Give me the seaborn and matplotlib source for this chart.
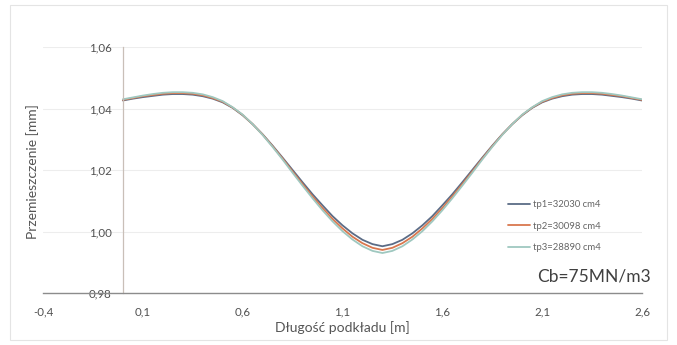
import numpy as np
import pandas as pd
import matplotlib
matplotlib.use("Agg")
import matplotlib.pyplot as plt
import seaborn as sns
from matplotlib.patches import Rectangle

# ---- data ----
x_m = [0.00, 0.05, 0.10, 0.15, 0.20, 0.25, 0.30, 0.35, 0.40, 0.45, 0.50, 0.55,
       0.60, 0.65, 0.70, 0.75, 0.80, 0.85, 0.90, 0.95, 1.00, 1.05, 1.10, 1.15,
       1.20, 1.25, 1.30, 1.35, 1.40, 1.45, 1.50, 1.55, 1.60, 1.65, 1.70, 1.75,
       1.80, 1.85, 1.90, 1.95, 2.00, 2.05, 2.10, 2.15, 2.20, 2.25, 2.30, 2.35,
       2.40, 2.45, 2.50, 2.55, 2.60]
tp1 = [1.0426, 1.0432, 1.0437, 1.0441, 1.0445, 1.0447, 1.0447, 1.0445, 1.0440,
       1.0432, 1.0420, 1.0402, 1.0378, 1.0349, 1.0316, 1.0279, 1.0240, 1.0200,
       1.0160, 1.0121, 1.0085, 1.0050, 1.0020, 0.9994, 0.9973, 0.9959, 0.9952,
       0.9959, 0.9973, 0.9994, 1.0020, 1.0050, 1.0085, 1.0121, 1.0160, 1.0200,
       1.0240, 1.0279, 1.0316, 1.0349, 1.0378, 1.0402, 1.0420, 1.0432, 1.0440,
       1.0445, 1.0447, 1.0447, 1.0445, 1.0441, 1.0437, 1.0432, 1.0426]
tp2 = [1.0428, 1.0434, 1.0440, 1.0444, 1.0448, 1.0450, 1.0450, 1.0448, 1.0443,
       1.0434, 1.0422, 1.0403, 1.0379, 1.0349, 1.0315, 1.0277, 1.0237, 1.0195,
       1.0154, 1.0114, 1.0076, 1.0041, 1.0010, 0.9983, 0.9962, 0.9947, 0.9940,
       0.9947, 0.9962, 0.9983, 1.0010, 1.0041, 1.0076, 1.0114, 1.0154, 1.0195,
       1.0237, 1.0277, 1.0315, 1.0349, 1.0379, 1.0403, 1.0422, 1.0434, 1.0443,
       1.0448, 1.0450, 1.0450, 1.0448, 1.0444, 1.0440, 1.0434, 1.0428]
tp3 = [1.0430, 1.0436, 1.0442, 1.0447, 1.0451, 1.0453, 1.0453, 1.0451, 1.0446,
       1.0437, 1.0424, 1.0404, 1.0380, 1.0349, 1.0314, 1.0275, 1.0234, 1.0191,
       1.0149, 1.0108, 1.0069, 1.0033, 1.0001, 0.9974, 0.9952, 0.9937, 0.9930,
       0.9937, 0.9952, 0.9974, 1.0001, 1.0033, 1.0069, 1.0108, 1.0149, 1.0191,
       1.0234, 1.0275, 1.0314, 1.0349, 1.0380, 1.0404, 1.0424, 1.0437, 1.0446,
       1.0451, 1.0453, 1.0453, 1.0451, 1.0447, 1.0442, 1.0436, 1.0430]
series_names = ["tp1=32030 cm4", "tp2=30098 cm4", "tp3=28890 cm4"]
x_ticks = [-0.4, 0.1, 0.6, 1.1, 1.6, 2.1, 2.6]
x_tick_labels = ["-0,4", "0,1", "0,6", "1,1", "1,6", "2,1", "2,6"]
y_ticks = [0.98, 1.00, 1.02, 1.04, 1.06]
y_tick_labels = ["0,98", "1,00", "1,02", "1,04", "1,06"]
x_title = "Długość podkładu [m]"
y_title = "Przemieszczenie [mm]"
annotation = "Cb=75MN/m3"

df = pd.concat([
    pd.DataFrame({"x": x_m, "y": vals, "series": name})
    for name, vals in zip(series_names, [tp1, tp2, tp3])
], ignore_index=True)

sns.set_theme(style="white")
plt.rcParams["font.family"] = ["Lato", "DejaVu Sans"]

W, H = 677, 345
fig = plt.figure(figsize=(W / 100, H / 100), dpi=100)
fig.patch.set_facecolor("white")

# outer chart frame
fig.patches.append(Rectangle((10 / W, 5 / H), 657 / W, 335 / H,
                             transform=fig.transFigure, fill=False,
                             edgecolor="#e4e4e4", linewidth=0.8))

ax_l, ax_r, ax_t, ax_b = 43, 642, 47, 293
ax = fig.add_axes([ax_l / W, 1 - ax_b / H, (ax_r - ax_l) / W, (ax_b - ax_t) / H])

palette = {series_names[0]: "#5b6c86", series_names[1]: "#d9774e",
           series_names[2]: "#9fc8c0"}
sns.lineplot(data=df, x="x", y="y", hue="series", palette=palette,
             linewidth=1.3, ax=ax, legend=True)

ax.set_xlim(-0.4, 2.6)
ax.set_ylim(0.98, 1.06)
ax.set_xticks(x_ticks)
ax.set_xticklabels(x_tick_labels)
ax.set_yticks(y_ticks)
ax.set_yticklabels(y_tick_labels)

ax.grid(axis="y", color="#ededed", linewidth=0.8)
ax.grid(axis="x", visible=False)
ax.set_axisbelow(True)

for s in ["top", "right"]:
    ax.spines[s].set_visible(False)
ax.spines["left"].set_position(("data", 0))
ax.spines["left"].set_color("#c9bfb8")
ax.spines["left"].set_linewidth(0.9)
ax.spines["bottom"].set_color("#8c8c8c")
ax.spines["bottom"].set_linewidth(1.0)

ax.tick_params(axis="both", length=0, labelsize=8.3, colors="#505050")
ax.tick_params(axis="x", pad=10)
ax.tick_params(axis="y", pad=8)

ax.set_xlabel(x_title, fontsize=10, color="#555555", labelpad=2)
ax.set_ylabel("")
fig.text(33 / W, 1 - 172 / H, y_title, rotation=90, fontsize=10,
         color="#555555", ha="center", va="center")

leg = ax.legend(loc="upper left", bbox_to_anchor=((508 - ax_l) / (ax_r - ax_l),
                (ax_b - 200) / (ax_b - ax_t)),
                frameon=False, fontsize=6.8, handlelength=2.3,
                handletextpad=0.3, labelspacing=1.35, borderaxespad=0,
                borderpad=0)
for t in leg.get_texts():
    t.set_color("#666666")

ax.text((537 - ax_l) / (ax_r - ax_l), (ax_b - 276) / (ax_b - ax_t), annotation,
        transform=ax.transAxes, fontsize=12.5, color="#404040",
        ha="left", va="center")

fig.savefig("out.png", dpi=100, facecolor="white")
